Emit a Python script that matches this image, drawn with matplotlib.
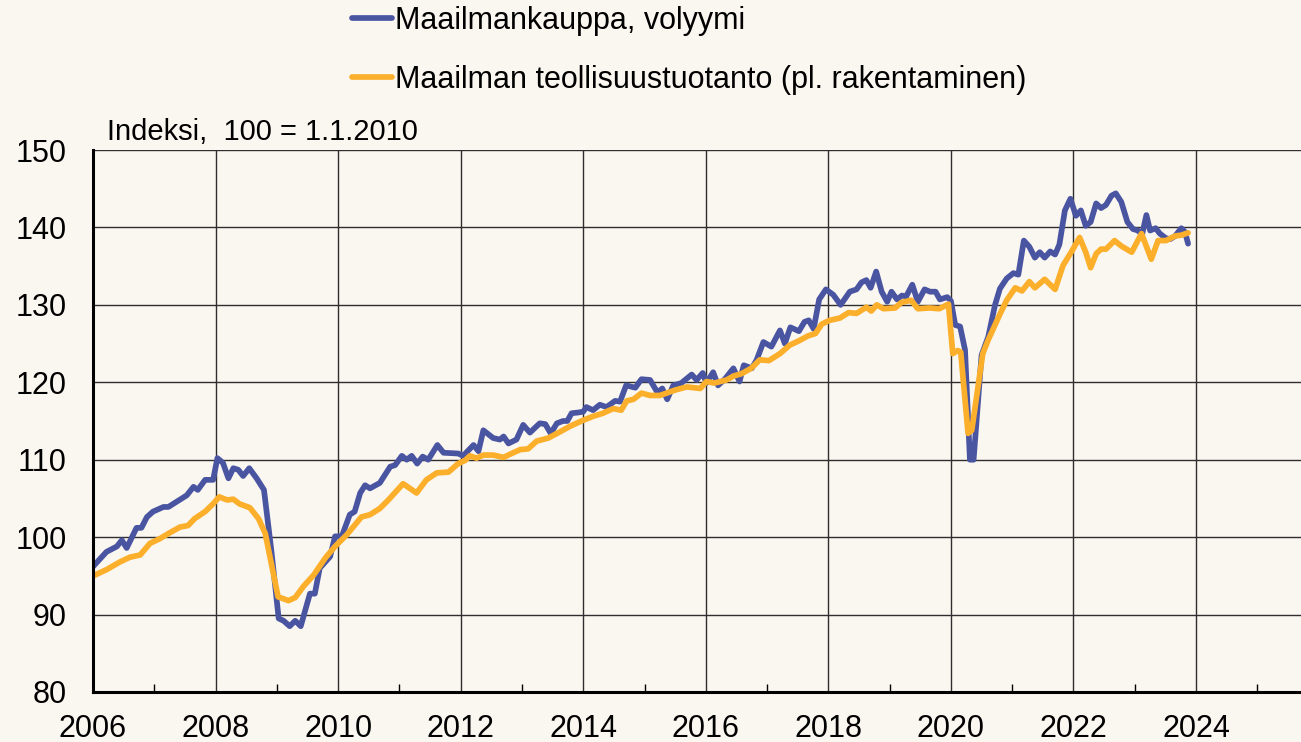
import matplotlib
matplotlib.use('Agg')
import matplotlib.pyplot as plt
from matplotlib.ticker import MultipleLocator

# world trade volume (decimal year, index)
trade_years = [2006.00, 2006.22, 2006.39, 2006.47, 2006.55, 2006.71, 2006.79, 2006.88, 2006.98,
               2007.15, 2007.23, 2007.37, 2007.53, 2007.64, 2007.71, 2007.83, 2007.96,
               2008.03, 2008.12, 2008.21, 2008.29, 2008.37, 2008.45, 2008.55, 2008.67, 2008.79, 2008.91,
               2009.03, 2009.11, 2009.21, 2009.30, 2009.39, 2009.54, 2009.62, 2009.70, 2009.87, 2009.95,
               2010.06, 2010.19, 2010.27, 2010.36, 2010.44, 2010.52, 2010.68, 2010.85, 2010.93,
               2011.04, 2011.12, 2011.20, 2011.29, 2011.38, 2011.47, 2011.62, 2011.72, 2011.96,
               2012.04, 2012.21, 2012.29, 2012.37, 2012.53, 2012.64, 2012.70, 2012.78, 2012.91,
               2013.02, 2013.13, 2013.29, 2013.38, 2013.47, 2013.57, 2013.67, 2013.74, 2013.81, 2013.92,
               2014.00, 2014.05, 2014.16, 2014.27, 2014.38, 2014.52, 2014.60, 2014.70, 2014.85, 2014.95,
               2015.09, 2015.21, 2015.29, 2015.37, 2015.47, 2015.60, 2015.77, 2015.85, 2015.95,
               2016.01, 2016.12, 2016.20, 2016.31, 2016.45, 2016.55, 2016.62, 2016.75, 2016.83, 2016.94,
               2017.07, 2017.21, 2017.29, 2017.38, 2017.52, 2017.61, 2017.68, 2017.76, 2017.85, 2017.96,
               2018.08, 2018.20, 2018.35, 2018.46, 2018.54, 2018.62, 2018.69, 2018.78, 2018.87, 2018.96,
               2019.03, 2019.12, 2019.20, 2019.27, 2019.37, 2019.46, 2019.57, 2019.66, 2019.75, 2019.82, 2019.94,
               2020.00, 2020.07, 2020.15, 2020.23, 2020.31, 2020.37, 2020.50, 2020.61, 2020.72, 2020.80, 2020.91,
               2021.02, 2021.10, 2021.19, 2021.28, 2021.37, 2021.45, 2021.53, 2021.62, 2021.70, 2021.77, 2021.86, 2021.95,
               2022.04, 2022.12, 2022.20, 2022.28, 2022.37, 2022.45, 2022.53, 2022.62, 2022.69, 2022.78, 2022.88, 2022.97,
               2023.05, 2023.12, 2023.19, 2023.25, 2023.34, 2023.41, 2023.51, 2023.58, 2023.66, 2023.76, 2023.82, 2023.87]
trade_values = [96.2, 98.1, 98.8, 99.6, 98.6, 101.2, 101.2, 102.6, 103.3,
                103.9, 103.9, 104.6, 105.4, 106.5, 106.1, 107.4, 107.4,
                110.2, 109.6, 107.6, 108.9, 108.7, 107.9, 108.9, 107.6, 106.1, 98.3,
                89.5, 89.2, 88.5, 89.2, 88.5, 92.7, 92.7, 96.0, 97.5, 100.1,
                100.1, 102.9, 103.3, 105.7, 106.7, 106.3, 107.0, 109.1, 109.3,
                110.5, 110.0, 110.5, 109.5, 110.4, 110.0, 111.9, 110.9, 110.8,
                110.5, 111.9, 111.1, 113.8, 112.8, 112.6, 113.0, 112.1, 112.6,
                114.5, 113.5, 114.7, 114.6, 113.4, 114.7, 115.0, 115.0, 116.0, 116.1,
                116.2, 116.8, 116.4, 117.1, 116.8, 117.6, 117.5, 119.6, 119.3, 120.4,
                120.3, 118.7, 119.2, 117.8, 119.6, 119.9, 121.0, 120.3, 121.2,
                119.9, 121.3, 119.6, 120.4, 121.8, 120.1, 122.2, 121.8, 122.9, 125.2,
                124.6, 126.7, 125.0, 127.1, 126.6, 127.8, 128.0, 126.9, 130.7, 132.0,
                131.3, 130.0, 131.7, 132.0, 132.9, 133.2, 132.2, 134.3, 131.7, 130.4,
                131.7, 130.7, 131.2, 131.1, 132.6, 130.4, 132.0, 131.7, 131.7, 130.7, 131.0,
                130.5, 127.4, 127.2, 124.2, 110.0, 110.0, 123.5, 125.9, 130.0, 132.1, 133.4,
                134.1, 133.9, 138.3, 137.5, 136.1, 136.8, 136.1, 136.9, 136.5, 137.8, 142.2, 143.7,
                141.5, 142.2, 140.2, 140.7, 143.1, 142.5, 142.9, 144.1, 144.4, 143.3, 140.7, 139.8,
                139.6, 139.1, 141.6, 139.6, 139.9, 139.2, 138.6, 138.5, 138.9, 139.9, 139.4, 137.9]

# world industrial production excl. construction
prod_years = [2006.03, 2006.22, 2006.44, 2006.60, 2006.77, 2006.93,
              2007.09, 2007.26, 2007.42, 2007.55, 2007.66, 2007.83, 2007.96,
              2008.06, 2008.19, 2008.29, 2008.39, 2008.56, 2008.70, 2008.81, 2008.91,
              2009.02, 2009.19, 2009.30, 2009.43, 2009.60, 2009.79, 2009.95,
              2010.14, 2010.38, 2010.52, 2010.68, 2010.82,
              2011.06, 2011.28, 2011.44, 2011.61, 2011.80, 2011.96,
              2012.07, 2012.15, 2012.26, 2012.37, 2012.53, 2012.70, 2012.83, 2012.97,
              2013.10, 2013.24, 2013.43, 2013.62, 2013.78, 2013.97,
              2014.16, 2014.32, 2014.49, 2014.62, 2014.71, 2014.82, 2014.95,
              2015.09, 2015.25, 2015.36, 2015.50, 2015.69, 2015.91,
              2016.01, 2016.14, 2016.34, 2016.45, 2016.58, 2016.74, 2016.88,
              2017.03, 2017.21, 2017.37, 2017.53, 2017.67, 2017.79, 2017.89,
              2018.02, 2018.19, 2018.33, 2018.46, 2018.62, 2018.70, 2018.79, 2018.90,
              2019.09, 2019.19, 2019.35, 2019.46, 2019.65, 2019.81, 2019.96,
              2020.03, 2020.11, 2020.16, 2020.28, 2020.34, 2020.52, 2020.61, 2020.80, 2020.91,
              2021.05, 2021.16, 2021.28, 2021.37, 2021.53, 2021.70, 2021.83, 2021.97,
              2022.10, 2022.20, 2022.28, 2022.37, 2022.45, 2022.53, 2022.67, 2022.78, 2022.95,
              2023.11, 2023.27, 2023.38, 2023.51, 2023.66, 2023.76, 2023.87]
prod_values = [95.1, 95.8, 96.8, 97.4, 97.7, 99.2,
               99.8, 100.6, 101.3, 101.5, 102.4, 103.3, 104.3,
               105.2, 104.8, 104.9, 104.3, 103.8, 102.4, 100.5, 96.6,
               92.3, 91.8, 92.2, 93.6, 95.1, 97.3, 98.8,
               100.3, 102.6, 102.9, 103.7, 104.8,
               106.9, 105.7, 107.4, 108.3, 108.4, 109.5,
               109.9, 110.5, 110.2, 110.6, 110.6, 110.3, 110.8, 111.3,
               111.4, 112.4, 112.8, 113.6, 114.3, 115.0,
               115.6, 116.0, 116.6, 116.4, 117.6, 117.8, 118.6,
               118.3, 118.3, 118.6, 119.0, 119.4, 119.2,
               120.1, 119.9, 120.3, 120.8, 121.1, 121.8, 122.9,
               122.8, 123.7, 124.8, 125.4, 126.0, 126.3, 127.5,
               128.0, 128.3, 129.0, 128.9, 129.7, 129.2, 130.0, 129.5,
               129.6, 130.3, 130.6, 129.5, 129.6, 129.5, 130.1,
               123.7, 124.1, 123.9, 113.4, 113.8, 123.7, 125.5, 128.8, 130.6,
               132.2, 131.8, 133.0, 132.2, 133.3, 132.0, 135.1, 136.9,
               138.7, 136.8, 134.8, 136.6, 137.2, 137.2, 138.3, 137.6, 136.8,
               139.2, 135.9, 138.3, 138.3, 138.9, 139.0, 139.3]

labels = ['Maailmankauppa, volyymi', 'Maailman teollisuustuotanto (pl. rakentaminen)']
year_ticks = list(range(2006, 2025, 2))
colors = ['#4A55A2', '#FBAF2B']
bg = '#FAF6F0'

plt.rcParams['font.family'] = ['Liberation Sans', 'DejaVu Sans']

fig = plt.figure(figsize=(13.01, 7.42), dpi=100, facecolor=bg)
# axes run on a bit past the right edge of the picture
ax = fig.add_axes([93/1301, 50/742, (2026 - 2006) * 61.28 / 1301, 542/742])
ax.set_facecolor(bg)

l1, = ax.plot(trade_years, trade_values, color=colors[0], lw=4.1,
              solid_joinstyle='round', solid_capstyle='round', zorder=3)
l2, = ax.plot(prod_years, prod_values, color=colors[1], lw=4.1,
              solid_joinstyle='round', solid_capstyle='round', zorder=4)

ax.set_xlim(2006, 2026)
ax.set_ylim(80, 150)
ax.set_xticks(year_ticks)
ax.set_xticklabels([str(y) for y in year_ticks])
ax.xaxis.set_minor_locator(MultipleLocator(1))
ax.yaxis.set_major_locator(MultipleLocator(10))
ax.grid(True, which='major', color='#2e2e2e', lw=1.0, zorder=1)
ax.set_axisbelow(True)

for s in ['top', 'right']:
    ax.spines[s].set_visible(False)
for s in ['left', 'bottom']:
    ax.spines[s].set_linewidth(2.2)
    ax.spines[s].set_color('black')
    ax.spines[s].set_zorder(5)

ax.tick_params(axis='x', which='major', direction='in', length=0, pad=16, labelsize=22)
ax.tick_params(axis='x', which='minor', direction='in', length=6, width=1.0)
ax.tick_params(axis='y', which='major', direction='in', length=0, pad=19, labelsize=22)

fig.text(107/1301, 1 - 132/742, 'Indeksi,  100 = 1.1.2010', fontsize=21,
         va='center', ha='left')

fig.legend([l1, l2], labels, loc='upper left', bbox_to_anchor=(352/1301, 1 - 6/742),
           frameon=False, fontsize=22, handlelength=1.3, handletextpad=0.1,
           labelspacing=0.95, borderpad=0, borderaxespad=0)

fig.savefig('out.png', dpi=100, facecolor=bg)
